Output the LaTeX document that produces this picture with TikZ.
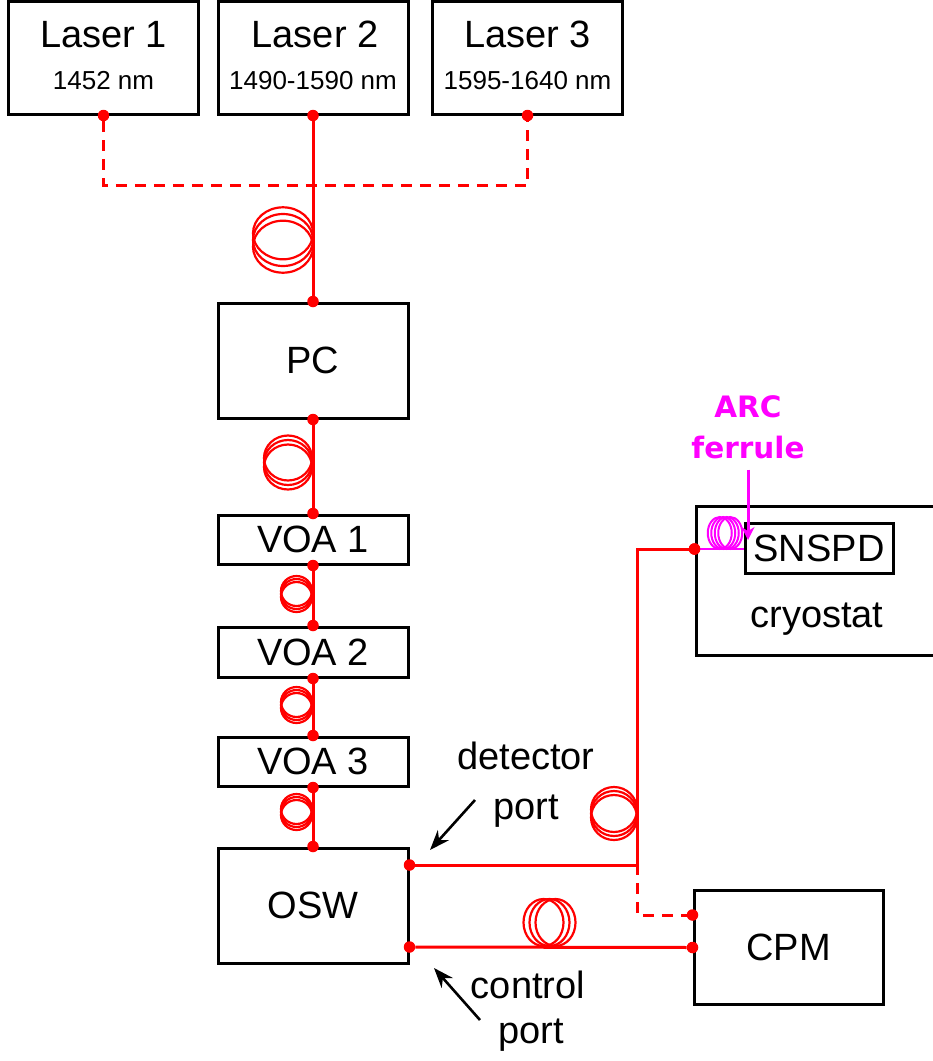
\documentclass[tikz,border=0pt]{standalone}
\usepackage{fontspec}
\setmainfont{Liberation Sans}
\newfontfamily\arcfont{DejaVu Sans}
\usetikzlibrary{arrows.meta, positioning, calc}
\definecolor{fibred}{RGB}{255,0,0}
\definecolor{arcmag}{RGB}{255,0,255}

\begin{document}
\begin{tikzpicture}[x=1pt, y=-1pt, >=Stealth]
	\tikzset{
		box/.style={draw, line width=3pt, inner sep=0pt, font=\fontsize{38}{40}\selectfont},
		laser/.style={box, minimum width=190pt, minimum height=113pt},
		wide/.style={box, minimum width=190pt, minimum height=115pt},
		slim/.style={box, minimum width=190pt, minimum height=49pt},
		fiber/.style={fibred, line width=3pt},
		coil/.style={fibred, line width=2.2pt},
		arcline/.style={arcmag, line width=2.6pt},
		dot/.style={circle, fill=fibred, inner sep=0pt, minimum size=11.5pt},
		txt/.style={anchor=base, inner sep=0pt, font=\fontsize{38}{40}\selectfont},
		sub/.style={anchor=base, inner sep=0pt, font=\fontsize{26}{28}\selectfont},
		arctxt/.style={anchor=base, inner sep=0pt, arcmag, font=\arcfont\bfseries\fontsize{29.5}{32}\selectfont},
		pointer/.style={->, line width=2.6pt, >={Stealth[length=20pt, width=15pt]}},
		arcptr/.style={->, arcmag, line width=3pt, >={Stealth[length=13pt, width=13pt]}}
	}
	
	% loops hanging left of a vertical fibre: x, y, rx, ry, step
	\newcommand{\vcoil}[5]{
		\foreach \k in {-1,0,1}
			\draw[coil] (#1-#3, #2+\k*#5) ellipse [x radius=#3, y radius=#4];
	}
	% loops standing on a horizontal fibre: x, y, rx, ry, step
	\newcommand{\hcoil}[5]{
		\foreach \k in {-1,0,1}
			\draw[coil] (#1+\k*#5, #2-#4) ellipse [x radius=#3, y radius=#4];
	}
	
	\useasboundingbox (0,0) rectangle (933,1061);
	
	% sources
	\node[laser] (L1) at (103.5,57.5) {};
	\node[laser] (L2) at (313,57.5) {};
	\node[laser] (L3) at (527.5,57.5) {};
	\node[txt, yshift=10.5pt] (L1name) at (L1.center) {Laser 1};
	\node[txt, yshift=10.5pt, xshift=2pt] (L2name) at (L2.center) {Laser 2};
	\node[txt, yshift=10.5pt] (L3name) at (L3.center) {Laser 3};
	\node[sub, yshift=-31.5pt] (L1wl) at (L1.center) {1452 nm};
	\node[sub, yshift=-31.5pt] (L2wl) at (L2.center) {1490-1590 nm};
	\node[sub, yshift=-31.5pt] (L3wl) at (L3.center) {1595-1640 nm};
	
	% chain
	\node[wide] (PC) at (313,360.5) {PC};
	\node[slim] (V1) at (313,539.5) {VOA 1};
	\node[slim, minimum height=50pt] (V2) at (313,652) {VOA 2};
	\node[slim] (V3) at (313,761.5) {VOA 3};
	\node[wide] (OSW) at (313,905.5) {OSW};
	
	% right side
	\node[box, minimum width=250pt, minimum height=149pt] (cryo) at (821,580.5) {};
	\node[box, minimum width=148pt, minimum height=50pt] (snspd) at (819,548) {SNSPD};
	\node[txt] (cryolbl) at (817,627) {cryostat};
	\node[box, minimum width=189pt, minimum height=114pt] (CPM) at (788.5,947) {CPM};
	
	% fibre loops
	\vcoil{313}{240}{30}{26}{6.7}
	\vcoil{312}{462.5}{24}{22.5}{4.5}
	\vcoil{312}{594}{15.5}{15}{3}
	\vcoil{312}{705}{15.5}{15}{3}
	\vcoil{312}{812}{15.5}{15}{3}
	\vcoil{637}{813.5}{23}{22.5}{4}
	\hcoil{549.5}{946}{20}{23.5}{6}
	
	% ports
	\node[dot] (d1) at (L1.south) {};
	\node[dot] (d2) at (L2.south) {};
	\node[dot] (d3) at (L3.south) {};
	\node[dot] (pcin) at (PC.north) {};
	\node[dot] (pcout) at (PC.south) {};
	\node[dot] (v1in) at (V1.north) {};
	\node[dot] (v1out) at (V1.south) {};
	\node[dot] (v2in) at (V2.north) {};
	\node[dot] (v2out) at (V2.south) {};
	\node[dot] (v3in) at (V3.north) {};
	\node[dot] (v3out) at (V3.south) {};
	\node[dot] (oswin) at (OSW.north) {};
	\node[dot] (det) at ([yshift=40.5pt]OSW.east) {};
	\node[dot] (ctl) at ([yshift=-41.5pt]OSW.east) {};
	\node[dot] (cpmin) at ([yshift=32pt]CPM.west) {};
	\node[dot] (cpmctl) at ([yshift=-0.5pt]CPM.west) {};
	
	\coordinate (mux) at (313,185);
	\coordinate (jn) at (637,865);
	
	% fibres
	\draw[fiber, dash pattern=on 11pt off 8pt] (d1) |- (mux) -| (d3);
	\draw[fiber] (d2) -- (pcin);
	\draw[fiber] (pcout) -- (v1in);
	\draw[fiber] (v1out) -- (v2in);
	\draw[fiber] (v2out) -- (v3in);
	\draw[fiber] (v3out) -- (oswin);
	\draw[fiber] (ctl) -- (cpmctl);
	
	% into the cryostat
	\node[dot] (cryoin) at ([yshift=31.5pt]cryo.west) {};
	\draw[fiber] (det) -- (jn) |- (cryoin);
	\draw[fiber] (jn) -- ++(0,5) coordinate (jn2);
	\draw[fiber, dash pattern=on 11pt off 8pt, dash phase=6pt] (jn2) |- (cpmin);
	\draw[arcline] (cryoin) -- (cryoin -| snspd.west);
	\foreach \k in {-1.5,-0.5,0.5,1.5}
		\draw[arcmag, line width=2pt] (725+\k*3.5, 533) ellipse [x radius=12, y radius=16];
	\node[dot] at (cryoin) {};
	
	% labels
	\node[arctxt] (arc) at (748,417) {ARC};
	\node[arctxt] (ferrule) at (748,458) {ferrule};
	\coordinate (arctip) at (748,540);
	\draw[arcptr, shorten <=11pt] (ferrule) -- (arctip);
	
	\node[txt] (detlbl) at (526,769) {detector};
	\node[txt] (detport) at (526,819) {port};
	\coordinate (dettail) at (475,800);
	\coordinate (dettip) at (430,850);
	\draw[pointer] (dettail) -- (dettip);
	
	\node[txt] (ctllbl) at (528,998) {control};
	\node[txt] (ctlport) at (531,1043) {port};
	\coordinate (ctltail) at (480,1020);
	\coordinate (ctltip) at (434,968);
	\draw[pointer] (ctltail) -- (ctltip);
	
\end{tikzpicture}
\end{document}
